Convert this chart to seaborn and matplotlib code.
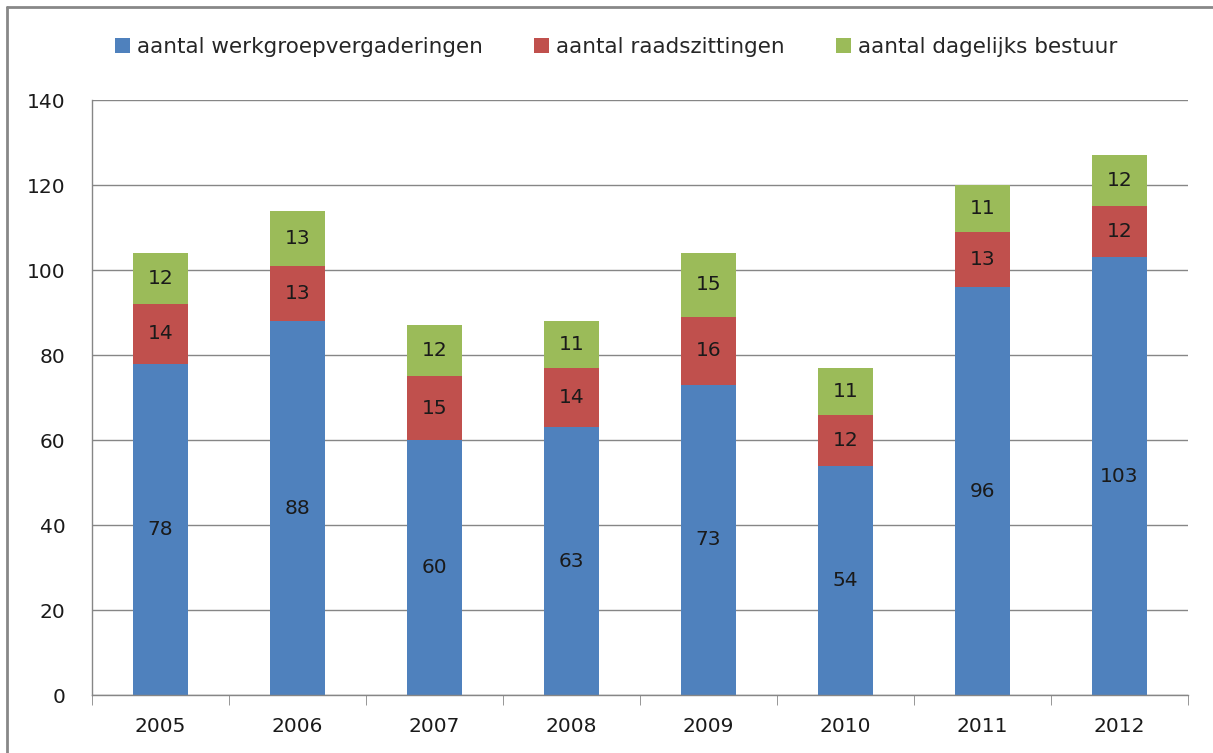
import numpy as np
import pandas as pd
import seaborn as sns
import matplotlib.pyplot as plt
from matplotlib.ticker import MultipleLocator, FixedLocator

jaren = ["2005", "2006", "2007", "2008", "2009", "2010", "2011", "2012"]
werkgroep = [78, 88, 60, 63, 73, 54, 96, 103]
raad = [14, 13, 15, 14, 16, 12, 13, 12]
bestuur = [12, 13, 12, 11, 15, 11, 11, 12]

namen = ["aantal werkgroepvergaderingen", "aantal raadszittingen", "aantal dagelijks bestuur"]
kleuren = ["#4F81BD", "#C0504D", "#9BBB59"]

sns.set_style("white")
plt.rcParams["font.family"] = ["DejaVu Sans"]

df = pd.DataFrame({"jaar": jaren, "w": werkgroep, "r": raad, "b": bestuur})

fig = plt.figure(figsize=(12.13, 7.53), dpi=100)
ax = fig.add_axes([0.0758, 0.077, 0.9036, 0.790])

onder = np.zeros(len(jaren))
for kol, naam, kleur in zip(["w", "r", "b"], namen, kleuren):
    sns.barplot(data=df, x="jaar", y=kol, color=kleur, width=0.4, bottom=onder,
                label=naam, ax=ax, saturation=1, edgecolor="none")
    onder = onder + df[kol].values

for c in ax.containers:
    ax.bar_label(c, label_type="center", fontsize=14.5, color="#1a1a1a")

ax.set_ylim(0, 140)
ax.set_xlim(-0.5, 7.5)
ax.yaxis.set_major_locator(MultipleLocator(20))
ax.grid(axis="y", color="#868686", linewidth=1)
ax.set_axisbelow(True)
ax.set_xlabel("")
ax.set_ylabel("")
for s in ["top", "right"]:
    ax.spines[s].set_visible(False)
for s in ["left", "bottom"]:
    ax.spines[s].set_color("#868686")
    ax.spines[s].set_linewidth(1)

ax.tick_params(axis="y", length=7, color="#868686", labelsize=14.5, pad=12, labelcolor="#1a1a1a")
ax.tick_params(axis="x", which="major", length=0, labelsize=14.5, pad=16, labelcolor="#1a1a1a")
ax.xaxis.set_minor_locator(FixedLocator(np.arange(-0.5, 8, 1)))
ax.tick_params(axis="x", which="minor", length=7, color="#868686", bottom=True)

if ax.legend_:
    ax.legend_.remove()
handles, labels = ax.get_legend_handles_labels()
fig.legend(handles, labels, loc="center", bbox_to_anchor=(0.508, 0.938), ncol=3,
           frameon=False, fontsize=15.5, handlelength=0.7, handleheight=0.7,
           handletextpad=0.3, columnspacing=2.4)

# rand van de grafiek
fig.add_artist(plt.Line2D([7 / 1213, 1], [1 - 7 / 753, 1 - 7 / 753], color="#888888", linewidth=2))
fig.add_artist(plt.Line2D([7 / 1213, 7 / 1213], [0, 1 - 7 / 753], color="#888888", linewidth=2))

fig.savefig("out.png", dpi=100)
